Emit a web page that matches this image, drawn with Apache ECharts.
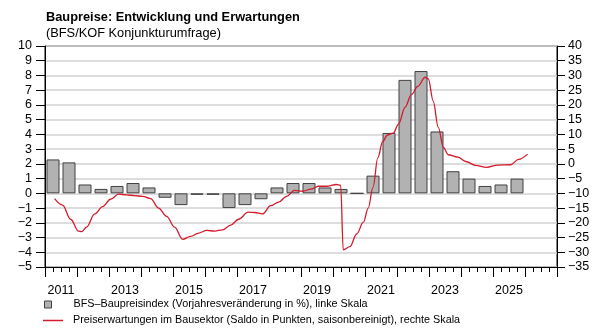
<!DOCTYPE html>
<html>
<head>
<meta charset="utf-8">
<script src="https://cdn.jsdelivr.net/npm/echarts@6/dist/echarts.min.js"></script>
<style>
html,body{margin:0;padding:0;background:#fff;}
#c{width:605px;height:329px;}
</style>
</head>
<body>
<div id="c"></div>
<script>
// Year labels (one band per year)
var years = ['2011','2012','2013','2014','2015','2016','2017','2018','2019','2020','2021','2022','2023','2024','2025','2026'];
// Half-year periods for the BFS index bars
var halfYears = [];
years.forEach(function (y) { halfYears.push(y + ' H1'); halfYears.push(y + ' H2'); });
// BFS Baupreisindex, Vorjahresveränderung in % (left scale)
var bfsValues = [2.3, 2.1, 0.6, 0.3, 0.5, 0.7, 0.4, -0.3, -0.8, -0.1,
                 -0.1, -1.0, -0.8, -0.4, 0.4, 0.7, 0.7, 0.4, 0.3, 0.0,
                 1.2, 4.1, 7.7, 8.3, 4.2, 1.5, 1.0, 0.5, 0.6, 1.0];
// KOF Preiserwartungen im Bausektor (right scale), dates as decimal years
var kofDates = [2011.30, 2011.55, 2011.80, 2012.05, 2012.15, 2012.30, 2012.55, 2012.80,
                2013.05, 2013.30, 2013.55, 2013.80, 2014.05, 2014.30, 2014.55, 2014.80,
                2015.05, 2015.30, 2015.55, 2015.80, 2016.05, 2016.30, 2016.55, 2016.80,
                2017.05, 2017.35, 2017.55, 2017.80, 2018.05, 2018.30, 2018.55, 2018.80,
                2019.05, 2019.30, 2019.55, 2019.80, 2020.10, 2020.24, 2020.32, 2020.53,
                2020.74, 2020.95, 2021.10, 2021.25, 2021.40, 2021.55, 2021.70, 2021.88,
                2022.05, 2022.25, 2022.45, 2022.65, 2022.88, 2022.98, 2023.13, 2023.29,
                2023.45, 2023.60, 2023.90, 2024.15, 2024.45, 2024.80, 2025.15, 2025.55,
                2025.80, 2026.08];
var kofValues = [-11.8, -14.0, -18.8, -22.8, -23.0, -21.5, -17.0, -14.5,
                 -12.0, -10.3, -10.5, -10.8, -11.0, -11.8, -15.0, -17.8,
                 -21.5, -25.6, -24.6, -23.5, -22.6, -22.8, -22.4, -20.8,
                 -18.8, -16.4, -16.5, -17.0, -14.2, -13.0, -11.0, -9.0,
                 -9.3, -8.6, -7.6, -7.6, -7.0, -7.3, -29.2, -28.1,
                 -23.8, -19.8, -15.0, -8.0, 2.0, 7.5, 9.8, 10.4,
                 13.5, 19.2, 23.5, 26.3, 29.4, 28.8, 21.4, 12.4,
                 5.6, 3.1, 2.3, 0.8, -0.5, -1.2, -0.4, -0.3,
                 1.5, 3.3];
var leftTicks = {min: -5, max: 10, interval: 1};
var rightTicks = {min: -35, max: 40, interval: 5};
var nameBars = 'BFS\u2013Baupreisindex (Vorjahresveränderung in %), linke Skala';
var nameLine = 'Preiserwartungen im Bausektor (Saldo in Punkten, saisonbereinigt), rechte Skala';

var FONT = 'Liberation Sans, Arial, sans-serif';
var chart = echarts.init(document.getElementById('c'), null, {renderer: 'canvas'});
var lineData = kofDates.map(function (d, i) { return [d, kofValues[i]]; });
function minus(v) { return v < 0 ? '\u2212' + Math.abs(v) : String(v); }

chart.setOption({
  animation: false,
  backgroundColor: '#fff',
  title: [
    {text: 'Baupreise: Entwicklung und Erwartungen', left: 41, top: 6,
     textStyle: {fontFamily: FONT, fontSize: 12.8, fontWeight: 'bold', color: '#000'}},
    {text: '(BFS/KOF Konjunkturumfrage)', left: 41, top: 22,
     textStyle: {fontFamily: FONT, fontSize: 12.8, fontWeight: 'normal', color: '#000'}}
  ],
  legend: [
    {data: [{name: nameBars, icon: 'rect'}], left: 44, top: 299, padding: 0, itemWidth: 7, itemHeight: 7,
     itemStyle: {borderColor: '#444', borderWidth: 1},
     textStyle: {fontFamily: FONT, fontSize: 10.8, color: '#000', padding: [0, 0, 0, 17]}},
    {data: [{name: nameLine, icon: 'rect'}], left: 43, top: 315, padding: 0, itemWidth: 20, itemHeight: 1.5,
     itemStyle: {borderWidth: 0},
     textStyle: {fontFamily: FONT, fontSize: 10.8, color: '#000', padding: [0, 0, 0, 5]}}
  ],
  grid: {left: 45, right: 48, top: 46, bottom: 62, show: true, borderColor: '#000', borderWidth: 1,
         backgroundColor: 'transparent'},
  xAxis: [
    {type: 'value', min: 2011, max: 2027, interval: 1, position: 'bottom',
     axisLine: {show: true, onZero: false, lineStyle: {color: '#000', width: 1}},
     axisTick: {show: true, length: 10, lineStyle: {color: '#000'}},
     minorTick: {show: true, splitNumber: 4, length: 5, lineStyle: {color: '#000'}},
     axisLabel: {show: false}, splitLine: {show: false}},
    {type: 'category', data: years, position: 'bottom', boundaryGap: true,
     axisLine: {show: false}, axisTick: {show: false}, splitLine: {show: false},
     axisLabel: {show: true, interval: 1, margin: 17, fontFamily: FONT, fontSize: 12.5, color: '#000'}},
    {type: 'category', data: halfYears, position: 'bottom', boundaryGap: true, show: false}
  ],
  yAxis: [
    {type: 'value', position: 'left', min: leftTicks.min, max: leftTicks.max, interval: leftTicks.interval,
     axisLine: {show: true, onZero: false, lineStyle: {color: '#000'}},
     axisTick: {show: true, length: 9, lineStyle: {color: '#000'}},
     axisLabel: {margin: 13, fontFamily: FONT, fontSize: 12.5, color: '#000', formatter: minus},
     splitLine: {show: true, lineStyle: {color: '#d2d2d2', width: 1.5}}},
    {type: 'value', position: 'right', min: rightTicks.min, max: rightTicks.max, interval: rightTicks.interval,
     axisLine: {show: true, onZero: false, lineStyle: {color: '#000'}},
     axisTick: {show: true, length: 8, lineStyle: {color: '#000'}},
     axisLabel: {margin: 11, fontFamily: FONT, fontSize: 12.5, color: '#000', formatter: minus},
     splitLine: {show: false}}
  ],
  series: [
    {name: nameBars, type: 'bar', xAxisIndex: 2, yAxisIndex: 0, data: bfsValues, barWidth: 13,
     itemStyle: {color: '#b2b2b2', borderColor: '#404040', borderWidth: 1}},
    {name: nameLine, type: 'line', xAxisIndex: 0, yAxisIndex: 1, data: lineData,
     showSymbol: false, symbol: 'none', smooth: 0.35, smoothMonotone: 'x',
     lineStyle: {color: '#d41a2c', width: 1.3}, itemStyle: {color: '#d41a2c'}}
  ]
});
</script>
</body>
</html>
